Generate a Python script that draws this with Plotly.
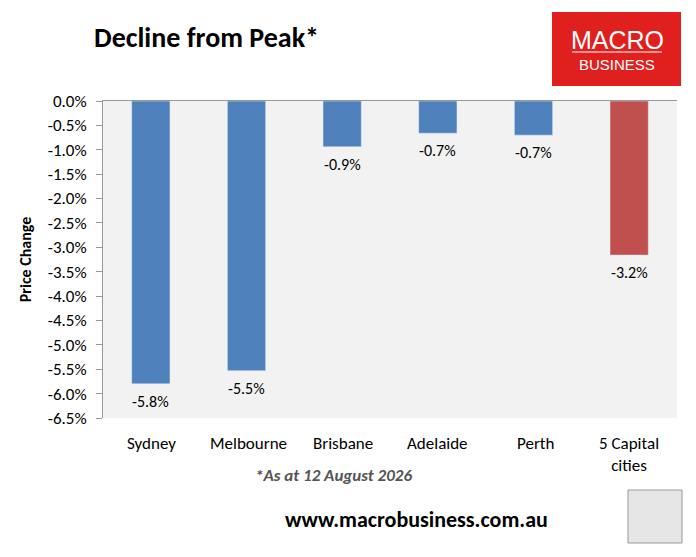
import plotly.graph_objects as go

categories = ["Sydney", "Melbourne", "Brisbane", "Adelaide", "Perth", "5 Capital<br>cities"]
values = [-5.8, -5.53, -0.94, -0.66, -0.70, -3.16]
labels = ["-5.8%", "-5.5%", "-0.9%", "-0.7%", "-0.7%", "-3.2%"]
colors = ["#4F81BD"] * 5 + ["#C0504D"]
tickvals = [-0.5 * i for i in range(14)]
ticktext = ["0.0%"] + [f"{v:.1f}%" for v in tickvals[1:]]

O = 8  # page offset
L, T, R, B = 103 - O, 101 - O, 696 - (677 - O), 557 - (418 - O)
W, H = 696, 557
PW, PH = W - L - R, H - T - B
FONT = "Carlito, Calibri, Lato, Liberation Sans, Arial"

fig = go.Figure(go.Bar(
    x=categories, y=values, marker_color=colors, width=0.4,
))
for c, v, t in zip(categories, values, labels):
    fig.add_annotation(x=c, y=v, text=t, showarrow=False, yanchor="top", yshift=-6,
                       font=dict(size=16, color="black", family=FONT))
fig.update_layout(
    width=W, height=H, plot_bgcolor="#F2F2F2", paper_bgcolor="white",
    margin=dict(l=L, r=R, t=T, b=B),
    showlegend=False,
    font=dict(family=FONT, size=16, color="black"),
    xaxis=dict(showline=True, linecolor="#999", ticks="", side="top", showticklabels=False),
    yaxis=dict(range=[-6.5, 0], tickvals=tickvals, ticktext=ticktext, showline=True,
               linecolor="#999", ticks="outside", ticklen=6, tickcolor="#999",
               ticklabelstandoff=6,
               showgrid=False, zeroline=False, tickfont=dict(size=17),
               title=dict(text="<b>Price Change</b>", font=dict(size=16), standoff=12)),
)

def px_x(p): return (p - O - L) / PW
def px_y(p): return 1 - (p - O - T) / PH

anns = [
    dict(text="<b>Decline from Peak*</b>", x=92, y=38, font=dict(size=28)),
    dict(text="<b><i>*As at 12 August 2026</i></b>", x=333, y=475, font=dict(size=17, color="#555"), xanchor="center"),
    dict(text="<b>www.macrobusiness.com.au</b>", x=283, y=519, font=dict(size=22)),
    dict(text="MACRO", x=617, y=40, font=dict(size=25, color="white", family="Liberation Sans"), xanchor="center"),
    dict(text="BUSINESS", x=617, y=64, font=dict(size=15, color="white", family="Liberation Sans"), xanchor="center"),
]
xs = [151, 248, 343, 437, 535, 629]
for c, x in zip(categories, xs):
    anns.append(dict(text=c, x=x, y=431, font=dict(size=17), xanchor="center", yanchor="top"))
for a in anns:
    fig.add_annotation(xref="paper", yref="paper", showarrow=False,
                       xanchor=a.get("xanchor", "left"), yanchor=a.get("yanchor", "middle"),
                       x=px_x(a["x"]), y=px_y(a["y"]), text=a["text"], font=a["font"])

fig.add_shape(type="rect", xref="paper", yref="paper", x0=px_x(552), x1=px_x(681), y0=px_y(86), y1=px_y(12),
              fillcolor="#E0201E", line=dict(width=0), layer="below")
fig.add_shape(type="line", xref="paper", yref="paper", x0=px_x(572), x1=px_x(662), y0=px_y(52), y1=px_y(52),
              line=dict(color="white", width=1))
fig.add_shape(type="rect", xref="paper", yref="paper", x0=px_x(628), x1=px_x(682), y0=px_y(543), y1=px_y(490),
              fillcolor="#E6E6E6", line=dict(color="#999", width=1))
fig.write_html("out.html")
